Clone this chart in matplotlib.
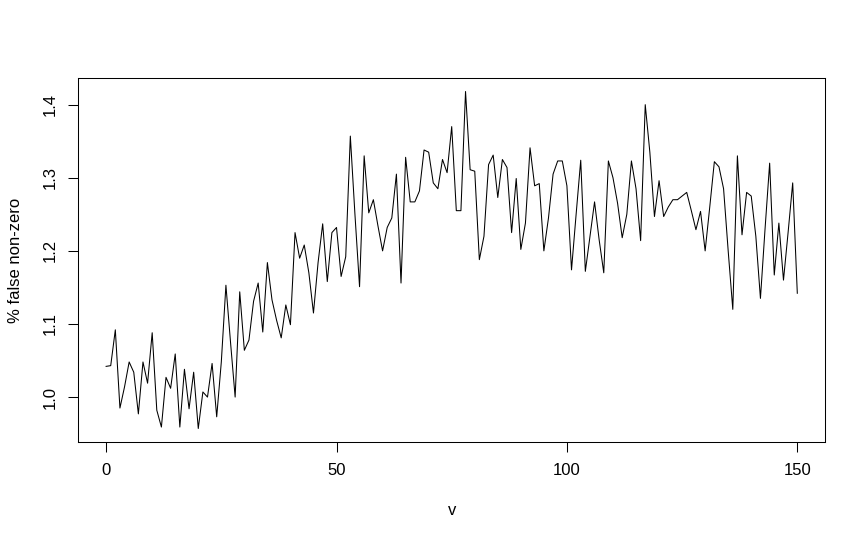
import matplotlib
matplotlib.use("Agg")
import matplotlib.pyplot as plt
import numpy as np

# values, v = 0..150
v = np.arange(0, 151)
false_nonzero = [
    1.042, 1.043, 1.092, 0.985, 1.014, 1.048, 1.034, 0.977, 1.048, 1.019,
    1.088, 0.982, 0.959, 1.027, 1.012, 1.059, 0.959, 1.038, 0.984, 1.034,
    0.957, 1.007, 1.000, 1.046, 0.973, 1.048, 1.153, 1.075, 1.000, 1.144,
    1.064, 1.078, 1.131, 1.156, 1.089, 1.184, 1.133, 1.105, 1.081, 1.126,
    1.099, 1.225, 1.190, 1.208, 1.170, 1.115, 1.184, 1.237, 1.158, 1.225,
    1.232, 1.165, 1.192, 1.357, 1.250, 1.151, 1.330, 1.252, 1.270, 1.234,
    1.200, 1.232, 1.245, 1.305, 1.156, 1.328, 1.267, 1.267, 1.282, 1.338,
    1.335, 1.293, 1.285, 1.325, 1.307, 1.370, 1.255, 1.255, 1.418, 1.311,
    1.309, 1.188, 1.220, 1.318, 1.331, 1.273, 1.325, 1.314, 1.225, 1.299,
    1.202, 1.238, 1.341, 1.289, 1.292, 1.200, 1.245, 1.305, 1.323, 1.323,
    1.289, 1.174, 1.250, 1.324, 1.172, 1.220, 1.267, 1.215, 1.170, 1.323,
    1.300, 1.265, 1.218, 1.250, 1.323, 1.285, 1.214, 1.400, 1.335, 1.247,
    1.296, 1.247, 1.260, 1.270, 1.270, 1.275, 1.280, 1.255, 1.229, 1.254,
    1.200, 1.260, 1.322, 1.315, 1.285, 1.200, 1.120, 1.330, 1.222, 1.280,
    1.275, 1.220, 1.135, 1.230, 1.320, 1.167, 1.238, 1.160, 1.225, 1.293,
    1.142,
]
xticks = [0, 50, 100, 150]
yticks = [1.0, 1.1, 1.2, 1.3, 1.4]

plt.rcParams['font.family'] = ['Liberation Sans', 'DejaVu Sans']

fig = plt.figure(figsize=(8.66, 5.4), dpi=100)
ax = fig.add_axes([0.0906, 0.1815, 0.862, 0.674])

ax.plot(v, false_nonzero, color='black', linewidth=0.75)

# R style 4% padding on both axes
xr = v.max() - v.min()
ax.set_xlim(v.min() - 0.04 * xr, v.max() + 0.04 * xr)
y = np.array(false_nonzero)
yr = y.max() - y.min()
ax.set_ylim(y.min() - 0.04 * yr, y.max() + 0.04 * yr)

ax.set_xticks(xticks)
ax.set_xticklabels([str(t) for t in xticks])
ax.set_yticks(yticks)
ax.set_yticklabels(['%.1f' % t for t in yticks], rotation=90, va='center')
ax.tick_params(direction='out', length=7, width=0.75, labelsize=12, pad=8, color='black')

for s in ax.spines.values():
    s.set_linewidth(0.75)
    s.set_color('black')

ax.set_xlabel('v', fontsize=12, va='center')
ax.xaxis.set_label_coords(0.5, -0.187)
ax.set_ylabel('% false non-zero', fontsize=12, va='center')
ax.yaxis.set_label_coords(-0.085, 0.5)

fig.savefig('out.png', dpi=100)
